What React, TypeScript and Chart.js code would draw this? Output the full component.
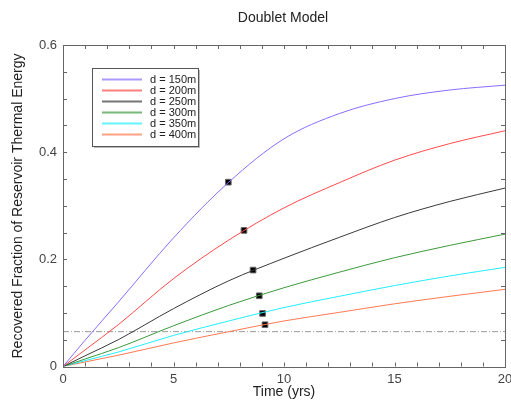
import React, { useEffect, useRef } from "react";
import { Chart, registerables } from "chart.js";
Chart.register(...registerables);

const times = [0, 1, 2.5, 5, 7.5, 10, 12.5, 15, 17.5, 20];
const seriesLabels = ["d = 150m", "d = 200m", "d = 250m", "d = 300m", "d = 350m", "d = 400m"];
const d150 = [0, 0.049, 0.120, 0.240, 0.344, 0.425, 0.472, 0.500, 0.516, 0.525];
const d200 = [0, 0.031, 0.078, 0.164, 0.236, 0.296, 0.343, 0.385, 0.416, 0.440];
const d250 = [0, 0.020, 0.050, 0.108, 0.160, 0.202, 0.241, 0.278, 0.308, 0.333];
const d300 = [0, 0.014, 0.035, 0.076, 0.114, 0.147, 0.176, 0.203, 0.226, 0.247];
const d350 = [0, 0.011, 0.027, 0.058, 0.085, 0.110, 0.131, 0.151, 0.169, 0.185];
const d400 = [0, 0.0085, 0.021, 0.044, 0.065, 0.085, 0.101, 0.117, 0.131, 0.144];
const markerX = [7.48, 8.19, 8.6, 8.88, 9.03, 9.14];
const markerY = [0.344, 0.254, 0.180, 0.132, 0.099, 0.078];
const thresholdY = 0.065;
const xMajorTicks = [0, 5, 10, 15, 20];
const yMajorTicks = [0, 0.2, 0.4, 0.6];
const colors = ["#8a6cff", "#ff4a4a", "#3a3a3a", "#3c9a3c", "#22eeff", "#ff7a50"];

const allSeries = [d150, d200, d250, d300, d350, d400];
const FONT = "'Liberation Sans', Arial, sans-serif";

const framePlugin = {
  id: "frameTicks",
  afterDraw(chart: any) {
    const { ctx, chartArea: a, scales } = chart;
    const xs = scales.x, ys = scales.y;
    ctx.save();
    ctx.strokeStyle = "#666";
    ctx.lineWidth = 1;
    ctx.strokeRect(Math.round(a.left) + 0.5, Math.round(a.top) + 0.5, Math.round(a.right - a.left), Math.round(a.bottom - a.top));
    ctx.beginPath();
    for (let v = 0; v <= 20; v += 1) {
      const px = Math.round(xs.getPixelForValue(v)) + 0.5;
      ctx.moveTo(px, a.bottom); ctx.lineTo(px, a.bottom - 4);
      ctx.moveTo(px, a.top); ctx.lineTo(px, a.top + 4);
    }
    for (let i = 0; i <= 12; i++) {
      const py = Math.round(ys.getPixelForValue(i * 0.05)) + 0.5;
      ctx.moveTo(a.left, py); ctx.lineTo(a.left + 4, py);
      ctx.moveTo(a.right, py); ctx.lineTo(a.right - 4, py);
    }
    ctx.stroke();

    // titles
    ctx.fillStyle = "#222";
    ctx.textAlign = "center";
    ctx.textBaseline = "middle";
    ctx.font = "14px " + FONT;
    ctx.fillText("Doublet Model", 283, 18);
    ctx.fillText("Time (yrs)", 284, 392);
    ctx.save();
    ctx.translate(18.5, 206);
    ctx.rotate(-Math.PI / 2);
    ctx.fillText("Recovered Fraction of Reservoir Thermal Energy", 0, 0);
    ctx.restore();

    // legend
    const bx = 92, by = 68, bw = 106, bh = 78;
    ctx.fillStyle = "#bbb";
    ctx.fillRect(bx + 2, by + 2, bw, bh);
    ctx.fillStyle = "#fff";
    ctx.fillRect(bx, by, bw, bh);
    ctx.strokeStyle = "#555";
    ctx.lineWidth = 1;
    ctx.strokeRect(bx + 0.5, by + 0.5, bw, bh);
    ctx.font = "11px " + FONT;
    ctx.textAlign = "left";
    for (let i = 0; i < seriesLabels.length; i++) {
      const yy = 79 + i * 11;
      ctx.strokeStyle = colors[i];
      ctx.globalAlpha = 0.7;
      ctx.lineWidth = 2;
      ctx.beginPath();
      ctx.moveTo(102, yy + 0.5); ctx.lineTo(142, yy + 0.5);
      ctx.stroke();
      ctx.globalAlpha = 1;
      ctx.fillStyle = "#222";
      ctx.fillText(seriesLabels[i], 150, yy + 1);
    }
    ctx.restore();
  },
};

export default function App() {
  const ref = useRef<HTMLCanvasElement>(null);
  useEffect(() => {
    if (!ref.current) return;
    const datasets: any[] = allSeries.map((s, i) => ({
      type: "line",
      label: seriesLabels[i],
      data: times.map((t, j) => ({ x: t, y: s[j] })),
      borderColor: colors[i],
      borderWidth: 1,
      pointRadius: 0,
      cubicInterpolationMode: "monotone",
      fill: false,
    }));
    datasets.push({
      type: "line",
      label: "threshold",
      data: [{ x: 0, y: thresholdY }, { x: 20, y: thresholdY }],
      borderColor: "#999",
      borderWidth: 1,
      borderDash: [6, 2, 1, 2],
      pointRadius: 0,
    });
    datasets.push({
      type: "scatter",
      label: "markers",
      data: markerX.map((x, i) => ({ x, y: markerY[i] })),
      pointStyle: "rect",
      pointRadius: 4,
      backgroundColor: "#000",
      borderColor: "#666",
      borderWidth: 1,
    });
    const chart = new Chart(ref.current, {
      type: "line",
      data: { datasets },
      options: {
        animation: false,
        responsive: false,
        layout: { padding: { left: 0, right: 6, top: 45, bottom: 0 } },
        plugins: { legend: { display: false }, title: { display: false }, tooltip: { enabled: false } },
        scales: {
          x: {
            type: "linear",
            min: 0,
            max: 20,
            afterBuildTicks: (s: any) => { s.ticks = xMajorTicks.map((v) => ({ value: v })); },
            afterFit: (s: any) => { s.height = 48.5; s.paddingLeft = 0; s.paddingRight = 0; },
            grid: { display: false, drawTicks: false },
            border: { display: false },
            ticks: { padding: 5, color: "#444", font: { size: 13, family: FONT }, maxRotation: 0 },
          },
          y: {
            type: "linear",
            min: 0,
            max: 0.6,
            afterBuildTicks: (s: any) => { s.ticks = yMajorTicks.map((v) => ({ value: v })); },
            afterFit: (s: any) => { s.width = 63; s.paddingTop = 0; s.paddingBottom = 0; },
            grid: { display: false, drawTicks: false },
            border: { display: false },
            ticks: {
              padding: 6,
              color: "#444",
              font: { size: 13, family: FONT },
              callback: (v: any) => (v === 0 ? "0" : String(Number(v).toFixed(1))),
            },
          },
        },
      } as any,
      plugins: [framePlugin],
    });
    return () => chart.destroy();
  }, []);
  return (
    <div style={{ position: "fixed", left: 0, top: 0, width: 511, height: 415, background: "#fff" }}>
      <canvas ref={ref} width={511} height={415} />
    </div>
  );
}
